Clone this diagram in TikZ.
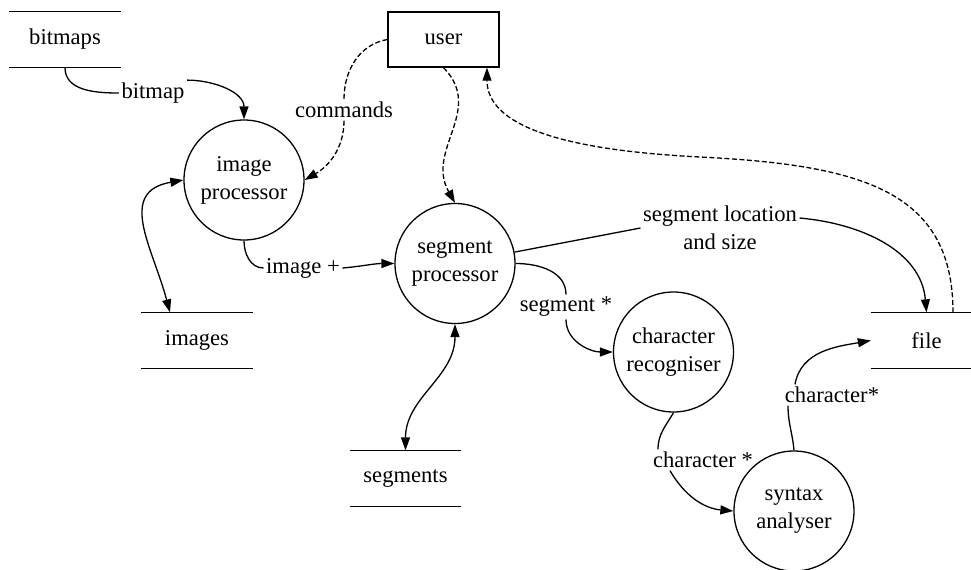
\documentclass[tikz,border=0pt]{standalone}
\usepackage{fontspec}
\setmainfont{Liberation Serif}
\usetikzlibrary{arrows.meta}
\begin{document}
\begin{tikzpicture}[x=0.5pt,y=0.5pt,line width=0.65pt,
  >={Triangle[length=6.5pt,width=4.5pt]},
  font=\fontsize{11.3}{14}\selectfont]
  \tikzstyle{process}=[draw,circle,minimum size=60pt,inner sep=0pt,align=center]
  \tikzstyle{store}=[minimum width=55pt,minimum height=27.5pt,inner sep=0pt]
  \tikzstyle{entity}=[draw,minimum width=55.5pt,minimum height=27.5pt,inner sep=0pt]
  \tikzstyle{flow}=[inner sep=1pt,align=center]
  \tikzstyle{control}=[dash pattern=on 2.5pt off 1.25pt]

  \useasboundingbox (0,0) rectangle (971,-569);

  % stores, processes and the user
  \node[store] (bitmaps) at (65,-39.5) {bitmaps};
  \node[store] (images) at (197,-340.5) {images};
  \node[store] (segments) at (405.5,-478.5) {segments};
  \node[store] (file) at (926.5,-340.5) {file};
  \node[entity] (user) at (443.5,-39.5) {user};
  \node[process] (imgproc) at (244,-180) {image\\processor};
  \node[process] (segproc) at (455,-263.5) {segment\\processor};
  \node[process] (charrec) at (673.5,-352) {character\\recogniser};
  \node[process] (syntax) at (794,-511) {syntax\\analyser};

  \foreach \s in {bitmaps,images,segments,file}
    \draw (\s.north west) -- (\s.north east) (\s.south west) -- (\s.south east);

  % flow labels
  \node[flow] (lbitmap) at (153,-93) {bitmap};
  \node[flow] (lcommands) at (344,-110) {commands};
  \node[flow] (limage) at (303,-268) {image +};
  \node[flow] (lsegloc) at (720,-228) {segment location\\and size};
  \node[flow] (lsegment) at (566,-307) {segment *};
  \node[flow] (lchar1) at (703,-460) {character *};
  \node[flow] (lchar2) at (832,-395) {character*};
  \coordinate (bend) at (700,-157);

  % data flows
  \draw (bitmaps.south) to[out=-90,in=180] (lbitmap.west);
  \draw[->] (lbitmap.north east) to[out=0,in=90] (imgproc.north);
  \draw (imgproc.south) to[out=-90,in=180] (limage.west);
  \draw[->] (limage.east) to[out=5,in=180] (segproc.west);
  \draw[<->] (imgproc.west) to[out=190,in=105,looseness=1.3] ([xshift=-13.5pt]images.north);
  \draw[<->] (segproc.south) to[out=-90,in=90] (segments.north);
  \draw (segproc) -- (lsegloc.west);
  \draw[->] ([yshift=5pt]lsegloc.east) to[out=-5,in=95] (file.north);
  \draw (segproc.east) to[out=0,in=90] (lsegment.north);
  \draw[->] (lsegment.south) to[out=-90,in=180] (charrec.west);
  \draw (charrec.south) to[out=-120,in=90] ([xshift=-22.5pt]lchar1.north);
  \draw[->] ([xshift=-16.5pt]lchar1.south) to[out=-60,in=175] (syntax.west);
  \draw (syntax.north) to[out=95,in=-90] ([xshift=-22pt]lchar2.south);
  \draw[->] ([xshift=-18.5pt]lchar2.north) to[out=80,in=190] (file.west);

  % control flows
  \draw[control] (user.west) to[out=190,in=90] (lcommands.north);
  \draw[control,->] (lcommands.south) to[out=-90,in=30] (imgproc.east);
  \draw[control,->] (user.south) .. controls (485,-110) and (425,-150) .. (segproc.north);
  \draw[control,->] ([xshift=13.25pt]file.north) .. controls (953,-190) and (860,-165) .. (bend)
    .. controls (560,-150) and (487,-125) .. ([xshift=21.75pt]user.south);
\end{tikzpicture}
\end{document}
